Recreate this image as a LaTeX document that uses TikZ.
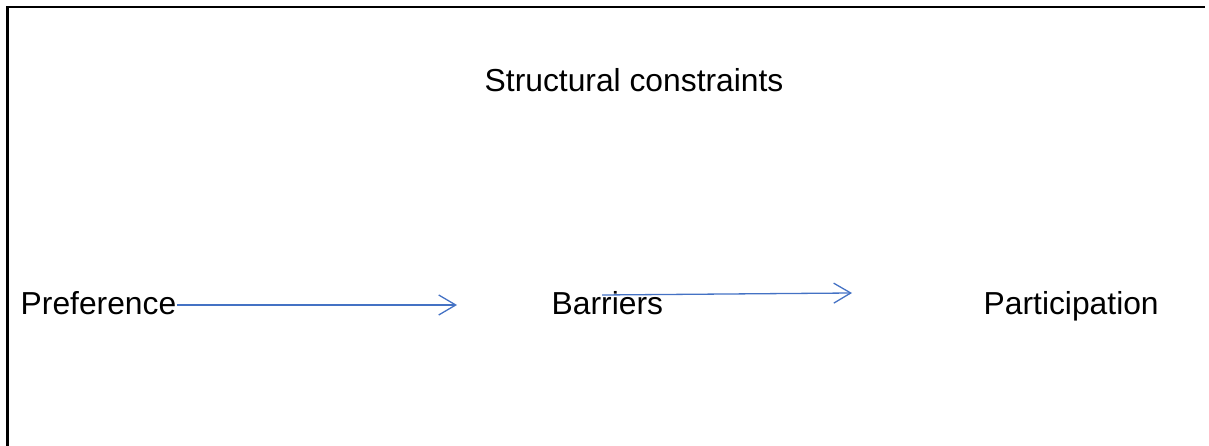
\documentclass[tikz,border=0pt]{standalone}
\usepackage{fontspec}
\setmainfont{Liberation Sans}
\usetikzlibrary{arrows.meta}
\definecolor{arrowblue}{RGB}{68,114,196}
\begin{document}
\begin{tikzpicture}[x=1pt,y=1pt,
  label/.style={font=\fontsize{31.8}{36}\selectfont, inner sep=0pt, anchor=base west},
  conn/.style={draw=arrowblue, line width=1.3pt, -{Straight Barb[length=17pt,width=20pt,line width=1.3pt]}},
  frame/.style={line width=2.5pt, line join=miter}]
\useasboundingbox (0,0) rectangle (1209,446);
\draw[frame] (7.3,0) -- (7.3,439) -- (1205,439);
\node[label] (sc) at (484.5,354) {Structural constraints};
\node[label] (pref) at (20.5,131) {Preference};
\node[label] (barr) at (551.5,131) {Barriers};
\node[label] (part) at (983.5,131) {Participation};
\coordinate (a1s) at (177,141);
\coordinate (a1e) at (457,141);
\coordinate (a2s) at (602,151);
\coordinate (a2e) at (852,153);
\draw[conn] (a1s) -- (a1e);
\draw[conn] (a2s) -- (a2e);
\end{tikzpicture}
\end{document}
